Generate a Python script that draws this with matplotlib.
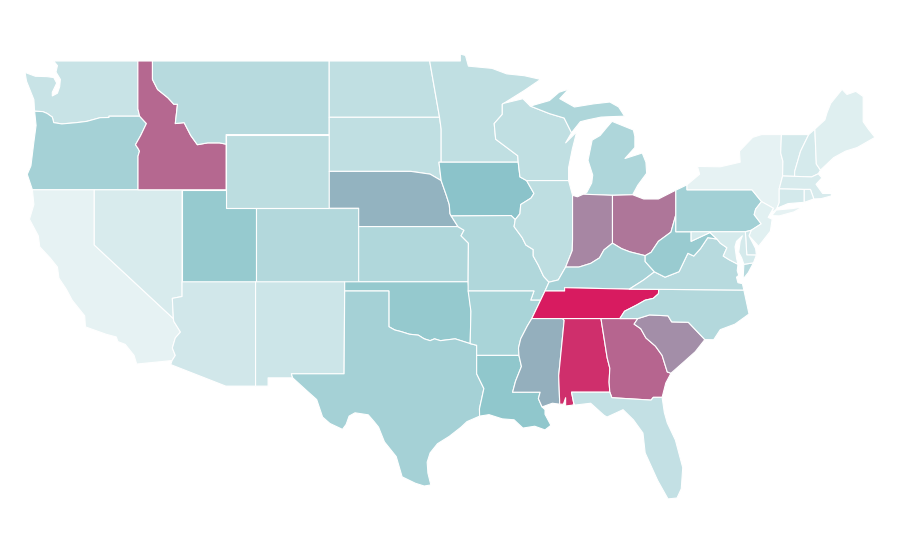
import matplotlib
matplotlib.use("Agg")
import matplotlib.pyplot as plt
from matplotlib.colors import LinearSegmentedColormap, Normalize

# state values (0-100)
states = ["WA", "OR", "CA", "NV", "ID", "MT", "WY", "UT", "AZ", "CO", "NM", "ND", "SD", "NE", "KS", "OK",
          "TX", "MN", "IA", "MO", "AR", "LA", "WI", "IL", "MI", "IN", "OH", "KY", "TN", "MS", "AL", "GA",
          "SC", "FL", "NC", "VA", "WV", "PA", "NY", "VT", "NH", "ME", "MA", "CT", "RI", "NJ", "DE", "MD"]
values = [24, 39, 11, 17, 77, 31, 29, 45, 20, 33, 22, 27, 27, 55, 34, 46,
          39, 27, 50, 34, 37, 48, 27, 28, 35, 68, 73, 38, 100, 56, 94, 78,
          66, 26, 33, 31, 44, 40, 11, 18, 18, 14, 17, 19, 17, 13, 20, 18]

# shared borders, lon/lat
or_wa = [(-124.05, 46.27), (-123.5, 46.25), (-123.2, 46.15), (-122.85, 45.95), (-122.75, 45.65), (-122.2, 45.58),
         (-121.2, 45.65), (-120.5, 45.72), (-119.6, 45.92), (-119.0, 45.93), (-119.0, 46.0), (-116.92, 46.0)]
or_id = [(-116.92, 46.0), (-116.46, 45.6), (-116.85, 44.95), (-117.2, 44.45), (-117.03, 44.25), (-116.93, 44.1),
         (-117.03, 43.83), (-117.03, 42.0)]
id_mt = [(-116.05, 49.0), (-116.05, 48.0), (-115.7, 47.45), (-115.0, 47.0), (-114.6, 46.65), (-114.35, 46.65),
         (-114.5, 45.6), (-113.9, 45.65), (-113.45, 44.95), (-113.0, 44.45), (-112.3, 44.55), (-111.5, 44.55),
         (-111.05, 44.48)]
ca_az = [(-114.72, 32.72), (-114.5, 33.0), (-114.7, 33.4), (-114.5, 33.95), (-114.15, 34.27), (-114.6, 34.85),
         (-114.63, 35.0)]
ne_mo = [(-96.45, 42.5), (-96.1, 41.7), (-95.9, 41.2), (-95.85, 40.7), (-95.77, 40.58), (-95.31, 40.0)]
ks_mo = [(-95.31, 40.0), (-94.9, 39.8), (-95.1, 39.5), (-94.6, 39.1), (-94.62, 37.0)]
tx_ok = [(-100.0, 34.56), (-99.6, 34.38), (-99.2, 34.3), (-98.6, 34.15), (-98.0, 34.1), (-97.6, 33.9), (-97.2, 33.8),
         (-96.9, 33.9), (-96.5, 33.8), (-95.5, 33.9), (-94.48, 33.64)]
tx_la = [(-94.04, 33.0), (-94.04, 32.0), (-93.55, 31.2), (-93.85, 30.1), (-93.84, 29.7)]
miss_up = [(-91.22, 43.5), (-91.1, 42.7), (-90.65, 42.5)]
il_ia = [(-90.65, 42.5), (-90.15, 41.8), (-90.35, 41.55), (-91.05, 41.2), (-91.1, 40.7), (-91.42, 40.38)]
il_mo = [(-91.42, 40.38), (-91.5, 40.0), (-90.95, 39.4), (-90.7, 39.0), (-90.2, 38.75), (-90.2, 38.4), (-89.85, 37.9),
         (-89.5, 37.3), (-89.13, 36.98)]
ar_ms = [(-90.3, 35.0), (-90.6, 34.6), (-91.05, 33.9), (-91.2, 33.4), (-91.17, 33.0)]
la_ms = [(-91.17, 33.0), (-91.0, 32.4), (-91.4, 31.6), (-91.6, 31.0), (-89.73, 31.0), (-89.85, 30.65), (-89.6, 30.2)]
ky_il = [(-89.13, 36.98), (-88.5, 37.1), (-88.0, 37.8)]
ky_in = [(-88.0, 37.8), (-87.1, 37.8), (-86.3, 38.0), (-85.7, 38.3), (-85.4, 38.73), (-84.82, 39.1)]
ky_oh = [(-84.82, 39.1), (-84.2, 38.8), (-83.65, 38.63), (-82.6, 38.42)]
ky_wv = [(-82.6, 38.42), (-82.6, 38.1), (-81.97, 37.54)]
ky_va = [(-81.97, 37.54), (-82.7, 37.1), (-83.68, 36.6)]
oh_wv = [(-82.6, 38.42), (-82.2, 38.6), (-81.7, 39.2), (-80.85, 39.7), (-80.52, 40.64)]
va_wv = [(-81.97, 37.54), (-81.25, 37.25), (-80.3, 37.55), (-79.7, 38.55), (-79.3, 38.4), (-78.85, 38.8),
         (-78.35, 39.4), (-77.72, 39.32)]
md_wv = [(-77.72, 39.32), (-78.2, 39.68), (-79.48, 39.2), (-79.48, 39.72)]
md_va = [(-77.72, 39.32), (-77.5, 39.1), (-77.05, 38.85), (-77.3, 38.4), (-76.9, 38.2), (-76.3, 37.95)]
tn_nc = [(-81.68, 36.59), (-81.7, 36.35), (-82.05, 36.1), (-82.6, 36.0), (-83.15, 35.75), (-84.0, 35.4), (-84.32, 35.0)]
nc_sc = [(-83.1, 35.0), (-82.3, 35.2), (-81.05, 35.15), (-80.8, 34.82), (-79.67, 34.8), (-78.55, 33.86)]
ga_sc = [(-83.1, 35.0), (-83.35, 34.7), (-82.9, 34.45), (-82.55, 33.95), (-81.9, 33.5), (-81.45, 33.0),
         (-81.1, 32.1), (-80.85, 32.03)]
ga_al = [(-85.6, 35.0), (-85.18, 32.87), (-85.0, 32.3), (-85.05, 31.55), (-85.0, 31.0)]
ga_fl = [(-85.0, 31.0), (-84.86, 30.7), (-82.2, 30.57), (-82.05, 30.72), (-81.45, 30.72)]
wi_mi = [(-90.4, 46.55), (-89.1, 46.14), (-88.1, 45.9), (-87.6, 45.1)]
wi_mn = [(-92.3, 46.65), (-92.3, 46.1), (-92.85, 45.6), (-92.75, 44.75), (-91.25, 43.85), (-91.22, 43.5)]
in_il = [(-87.53, 41.7), (-87.53, 39.3), (-87.55, 38.7), (-88.0, 37.8)]
mi_oh = [(-84.82, 41.7), (-83.45, 41.73)]
pa_ny = [(-79.76, 42.27), (-79.76, 42.0), (-75.35, 42.0), (-74.7, 41.36)]
pa_nj = [(-74.7, 41.36), (-75.1, 40.95), (-75.2, 40.65), (-74.72, 40.15), (-75.4, 39.8)]
ny_ne = [(-73.35, 45.0), (-73.4, 44.0), (-73.25, 43.55), (-73.27, 42.75), (-73.5, 42.05), (-73.5, 41.3), (-73.65, 41.0)]
vt_nh = [(-71.5, 45.0), (-72.05, 44.1), (-72.45, 43.0), (-72.46, 42.73)]
nh_ma = [(-72.46, 42.73), (-71.3, 42.7), (-70.85, 42.87)]
nh_me = [(-71.08, 45.3), (-70.98, 43.4), (-70.7, 43.07)]


def rev(arc):
    return arc[::-1]


outlines = {
    "WA": [[(-122.76, 49.0), (-117.04, 49.0), (-117.04, 46.4)] + rev(or_wa)
           + [(-124.1, 46.9), (-124.3, 47.3), (-124.6, 47.9), (-124.7, 48.38), (-124.0, 48.17), (-123.2, 48.15),
              (-122.75, 48.1), (-122.55, 47.8), (-122.85, 47.3), (-122.85, 47.1), (-122.5, 47.25), (-122.35, 47.6),
              (-122.3, 48.0), (-122.6, 48.4), (-122.5, 48.75)]],
    "OR": [or_wa + or_id[1:] + [(-120.0, 42.0), (-124.2, 42.0), (-124.55, 42.84), (-124.3, 43.3), (-124.1, 44.6),
                                (-123.95, 45.5)]],
    "CA": [[(-124.2, 42.0), (-120.0, 42.0), (-120.0, 39.0), (-114.63, 35.0)] + rev(ca_az)
           + [(-117.12, 32.53), (-117.3, 33.0), (-117.9, 33.6), (-118.4, 33.75), (-118.5, 34.0), (-119.2, 34.15),
              (-120.6, 34.55), (-120.65, 35.15), (-121.5, 36.0), (-121.9, 36.6), (-122.4, 37.2), (-122.5, 37.8),
              (-123.0, 38.3), (-123.7, 38.9), (-123.8, 39.5), (-124.4, 40.4), (-124.1, 41.2)]],
    "NV": [[(-120.0, 42.0), (-114.04, 42.0), (-114.04, 36.2), (-114.7, 36.1), (-114.63, 35.0), (-120.0, 39.0)]],
    "ID": [[(-117.04, 49.0), (-116.05, 49.0)] + id_mt[1:] + [(-111.05, 42.0), (-117.03, 42.0)] + rev(or_id)[1:]
           + [(-117.04, 46.4)]],
    "MT": [id_mt + [(-111.05, 45.0), (-104.05, 45.0), (-104.05, 49.0)]],
    "WY": [[(-111.05, 45.0), (-104.05, 45.0), (-104.05, 41.0), (-111.05, 41.0)]],
    "UT": [[(-114.04, 42.0), (-111.05, 42.0), (-111.05, 41.0), (-109.05, 41.0), (-109.05, 37.0), (-114.04, 37.0)]],
    "AZ": [[(-114.04, 37.0), (-109.05, 37.0), (-109.05, 31.33), (-111.07, 31.33), (-114.81, 32.5)] + ca_az
           + [(-114.7, 36.1), (-114.04, 36.2)]],
    "CO": [[(-109.05, 41.0), (-102.05, 41.0), (-102.05, 37.0), (-109.05, 37.0)]],
    "NM": [[(-109.05, 37.0), (-103.0, 37.0), (-103.04, 32.0), (-106.62, 32.0), (-106.53, 31.78), (-108.2, 31.78),
            (-108.2, 31.33), (-109.05, 31.33)]],
    "ND": [[(-104.05, 49.0), (-97.23, 49.0), (-96.56, 45.94), (-104.05, 45.94)]],
    "SD": [[(-104.05, 45.94), (-96.56, 45.94), (-96.45, 45.3), (-96.45, 43.5), (-96.6, 43.5), (-96.45, 42.5),
            (-97.2, 42.85), (-98.5, 43.0), (-104.05, 43.0)]],
    "NE": [[(-104.05, 43.0), (-98.5, 43.0), (-97.2, 42.85)] + ne_mo + [(-102.05, 40.0), (-102.05, 41.0), (-104.05, 41.0)]],
    "KS": [[(-102.05, 40.0)] + ks_mo + [(-102.05, 37.0)]],
    "OK": [[(-103.0, 37.0), (-94.62, 37.0), (-94.43, 35.4)] + rev(tx_ok) + [(-100.0, 36.5), (-103.0, 36.5)]],
    "TX": [[(-103.0, 36.5), (-100.0, 36.5)] + tx_ok + [(-94.04, 33.55)] + tx_la
           + [(-94.7, 29.4), (-95.1, 29.1), (-95.9, 28.6), (-96.7, 28.2), (-97.2, 27.7), (-97.4, 27.2), (-97.35, 26.6),
              (-97.15, 25.96), (-97.6, 25.9), (-98.2, 26.05), (-99.1, 26.4), (-99.5, 27.5), (-100.3, 28.3),
              (-100.7, 29.1), (-101.0, 29.4), (-101.4, 29.77), (-102.3, 29.88), (-102.7, 29.7), (-102.9, 29.25),
              (-103.15, 28.98), (-104.0, 29.3), (-104.5, 29.65), (-104.9, 30.6), (-105.6, 31.1), (-106.53, 31.78),
              (-106.62, 32.0), (-103.04, 32.0)]],
    "MN": [[(-97.23, 49.0), (-95.15, 49.0), (-95.15, 49.38), (-94.8, 49.3), (-94.6, 48.72), (-93.0, 48.6), (-92.0, 48.3),
            (-90.8, 48.2), (-89.7, 48.0), (-90.8, 47.4), (-92.2, 46.7)] + wi_mn
           + [(-96.45, 43.5), (-96.45, 45.3), (-96.56, 45.94)]],
    "IA": [[(-96.45, 43.5)] + miss_up + il_ia[1:] + [(-91.7, 40.6), (-95.77, 40.58), (-95.85, 40.7), (-95.9, 41.2),
                                                     (-96.1, 41.7), (-96.45, 42.5), (-96.6, 43.5)]],
    "MO": [[(-95.77, 40.58), (-91.7, 40.6)] + il_mo + [(-89.4, 36.5), (-89.7, 36.0), (-90.37, 36.0), (-90.15, 36.5),
                                                       (-94.62, 36.5)] + rev(ks_mo)],
    "AR": [[(-94.62, 36.5), (-90.15, 36.5), (-90.37, 36.0), (-89.7, 36.0)] + ar_ms
           + [(-94.04, 33.0), (-94.04, 33.55), (-94.48, 33.64), (-94.43, 35.4)]],
    "LA": [[(-94.04, 33.0)] + la_ms + [(-89.4, 30.05), (-89.4, 29.8), (-89.0, 29.2), (-89.4, 28.95), (-90.1, 29.15),
                                       (-90.9, 29.05), (-91.5, 29.5), (-92.3, 29.55), (-93.2, 29.78)] + rev(tx_la)[:-1]],
    "WI": [[(-92.2, 46.7), (-90.9, 46.95)] + wi_mi
           + [(-88.0, 44.55), (-87.25, 45.15), (-87.55, 44.2), (-87.8, 43.2), (-87.8, 42.5), (-90.65, 42.5), (-91.1, 42.7)]
           + rev(wi_mn)],
    "IL": [[(-90.65, 42.5), (-87.8, 42.5)] + in_il + rev(ky_il) + rev(il_mo) + rev(il_ia)],
    "MI": [[(-90.4, 46.55), (-89.1, 46.85), (-88.45, 47.3), (-87.8, 47.47), (-88.4, 46.95), (-87.4, 46.5), (-86.1, 46.67),
            (-85.0, 46.77), (-84.4, 46.5), (-84.0, 46.0), (-84.8, 45.98), (-85.6, 45.95), (-86.5, 45.8), (-87.0, 45.7)]
           + rev(wi_mi),
           [(-86.82, 41.76)] + mi_oh + [(-83.1, 42.25), (-82.5, 42.9), (-82.55, 43.5), (-82.8, 44.0), (-83.97, 43.7),
                                        (-83.3, 44.3), (-83.3, 44.9), (-83.4, 45.25), (-84.85, 45.72), (-85.3, 45.3),
                                        (-85.66, 44.95), (-86.2, 44.7), (-86.48, 43.6), (-86.16, 42.8), (-86.23, 42.37),
                                        (-86.57, 41.85)]],
    "IN": [[(-87.53, 41.7), (-87.2, 41.62), (-86.8, 41.76), (-84.82, 41.7)] + rev(ky_in) + rev(in_il)[1:]],
    "OH": [mi_oh + [(-82.7, 41.5), (-81.7, 41.5), (-80.52, 41.98)] + rev(oh_wv) + rev(ky_oh)],
    "KY": [[(-89.4, 36.5)] + ky_il + ky_in[1:] + ky_oh[1:] + ky_wv[1:] + ky_va[1:] + [(-88.07, 36.68), (-88.07, 36.5)]],
    "TN": [[(-89.4, 36.5), (-88.07, 36.5), (-88.07, 36.68), (-83.68, 36.6)] + tn_nc + [(-90.3, 35.0), (-89.7, 36.0)]],
    "MS": [[(-90.3, 35.0), (-88.2, 35.0), (-88.1, 34.9), (-88.47, 31.9), (-88.4, 30.35), (-88.9, 30.4)]
           + rev(la_ms)[:-1] + rev(ar_ms)[:-1]],
    "AL": [[(-88.2, 35.0)] + ga_al + [(-87.6, 31.0), (-87.45, 30.4), (-87.5, 30.3), (-88.0, 30.25), (-88.0, 30.7),
                                      (-88.15, 30.35), (-88.4, 30.35), (-88.47, 31.9), (-88.1, 34.9)]],
    "GA": [[(-85.6, 35.0)] + ga_sc + [(-81.2, 31.5)] + rev(ga_fl) + rev(ga_al)[1:]],
    "SC": [nc_sc + [(-79.2, 33.2), (-79.9, 32.7)] + rev(ga_sc)[:-1]],
    "FL": [[(-87.6, 31.0)] + ga_fl + [(-81.3, 29.9), (-81.1, 29.33), (-80.55, 28.4), (-80.05, 26.9), (-80.15, 25.75),
                                      (-80.44, 25.25), (-81.05, 25.2), (-81.75, 26.2), (-82.6, 27.7), (-82.75, 28.78),
                                      (-83.4, 29.5), (-84.1, 30.05), (-85.19, 29.65), (-85.4, 29.75), (-86.3, 30.4),
                                      (-87.36, 30.3), (-87.45, 30.4)]],
    "NC": [[(-84.32, 35.0)] + nc_sc + [(-77.95, 33.85), (-77.5, 34.4), (-76.5, 34.7), (-75.55, 35.25), (-75.9, 36.55)]
           + tn_nc],
    "VA": [[(-83.68, 36.6), (-81.68, 36.59), (-75.9, 36.55), (-76.0, 36.9), (-76.3, 36.95), (-76.4, 37.25), (-76.25, 37.35),
            (-76.35, 37.6), (-76.3, 37.95)] + rev(md_va)[1:] + rev(va_wv)[1:] + ky_va[1:],
           [(-75.25, 38.03), (-75.9, 37.95), (-75.95, 37.15), (-75.6, 37.5)]],
    "WV": [ky_wv + va_wv[1:] + md_wv[1:] + [(-80.52, 39.72)] + rev(oh_wv)],
    "PA": [[(-80.52, 41.98)] + pa_ny + pa_nj[1:] + [(-75.8, 39.72), (-79.48, 39.72), (-80.52, 39.72)]],
    "NY": [pa_ny + [(-73.9, 41.0), (-74.0, 40.75), (-73.75, 40.9)] + rev(ny_ne)
           + [(-74.7, 45.0), (-75.3, 44.85), (-76.2, 44.1), (-76.15, 43.5), (-77.5, 43.25), (-79.05, 43.27), (-78.9, 42.85)],
           [(-74.0, 40.6), (-73.7, 40.9), (-72.6, 40.98), (-71.9, 41.07), (-72.5, 40.8), (-73.5, 40.58)]],
    "VT": [[(-73.35, 45.0)] + vt_nh + [(-73.27, 42.75), (-73.25, 43.55), (-73.4, 44.0)]],
    "NH": [[(-71.5, 45.0), (-71.08, 45.3)] + nh_me[1:] + rev(nh_ma) + rev(vt_nh)[1:]],
    "ME": [[(-71.08, 45.3), (-70.4, 45.8), (-70.25, 46.2), (-70.0, 46.7), (-69.23, 47.46), (-68.9, 47.18),
            (-68.3, 47.35), (-67.8, 47.07), (-67.8, 45.7), (-67.45, 45.3), (-67.0, 44.85),
            (-68.2, 44.3), (-69.0, 44.1), (-69.8, 43.75)] + rev(nh_me)],
    "MA": [[(-73.5, 42.05), (-73.27, 42.75)] + nh_ma + [(-70.6, 42.65), (-71.0, 42.3), (-70.55, 41.8), (-70.0, 41.8),
                                                        (-70.0, 42.05), (-69.95, 41.67), (-70.65, 41.52),
                                                        (-71.15, 41.5), (-71.38, 42.02), (-71.8, 42.02)]],
    "CT": [[(-73.5, 42.05), (-71.8, 42.02), (-71.8, 41.32), (-72.9, 41.25), (-73.65, 41.0), (-73.5, 41.3)]],
    "RI": [[(-71.8, 42.02), (-71.38, 42.02), (-71.15, 41.5), (-71.8, 41.32)]],
    "NJ": [[(-74.7, 41.36), (-73.9, 41.0), (-74.25, 40.5), (-73.98, 40.4), (-74.1, 39.75), (-74.9, 38.93), (-75.55, 39.5)]
           + rev(pa_nj)[:-1]],
    "DE": [[(-75.8, 39.72), (-75.4, 39.8), (-75.55, 39.5), (-75.1, 38.8), (-75.05, 38.45), (-75.7, 38.46)]],
    "MD": [[(-79.48, 39.72), (-75.8, 39.72), (-75.7, 38.46), (-75.05, 38.45), (-75.25, 38.03), (-75.9, 37.95),
            (-76.05, 38.3), (-76.25, 38.6), (-76.15, 39.2), (-76.0, 39.5), (-76.4, 39.2), (-76.5, 38.9), (-76.4, 38.3),
            (-76.3, 37.95)] + rev(md_va)[1:] + md_wv[1:]],
}

cmap = LinearSegmentedColormap.from_list("rate", ["#ffffff", "#8bc4ca", "#d81b60"])
norm = Normalize(0, 100)

fig = plt.figure(figsize=(9, 5.6), dpi=100)
ax = fig.add_axes([0, 0, 1, 1])
for state, value in zip(states, values):
    for ring in outlines[state]:
        xs = [p[0] for p in ring]
        ys = [p[1] for p in ring]
        ax.fill(xs, ys, facecolor=cmap(norm(value)), edgecolor="white", linewidth=0.8, joinstyle="round")

# linear lon/lat scales, about 14.73 and 18.4 px per degree
ax.set_xlim(-126.4, -65.3)
ax.set_ylim(21.88, 52.315)
ax.axis("off")

fig.savefig("out.png", dpi=100)
